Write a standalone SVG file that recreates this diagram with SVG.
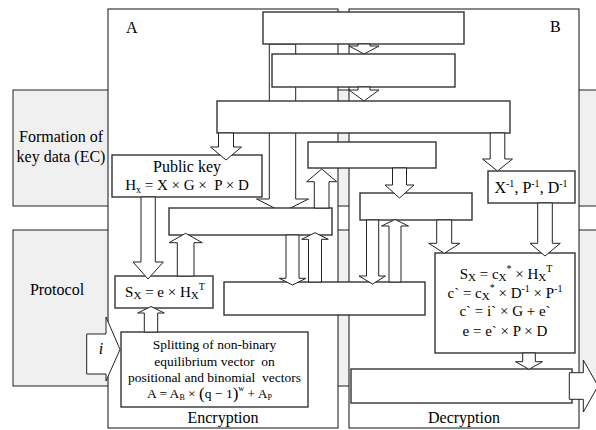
<svg xmlns="http://www.w3.org/2000/svg" width="596" height="430" viewBox="0 0 596 430">
<style>
.band{fill:#f0f0f0;stroke:#222;stroke-width:1}
.panel{fill:#fff;stroke:#111;stroke-width:1}
.box{fill:#fff;stroke:#333;stroke-width:1.4}
.arr{fill:#fff;stroke:#222;stroke-width:1}
text{font-family:'Liberation Serif','Times New Roman',Tinos,'DejaVu Serif',serif;font-size:16px;fill:#000}
.m{text-anchor:middle}
.s{font-size:13.5px}
.f{font-size:15px}
</style>
<rect width="596" height="430" fill="#fff"/>
<g id="band-formation">
<rect class="band" x="13" y="90" width="600" height="116"/>
<text class="m" x="61" y="142">Formation of</text>
<text class="m" x="61" y="162">key data (EC)</text>
</g>
<g id="band-protocol">
<rect class="band" x="13" y="230" width="600" height="156"/>
<text class="m" x="57" y="295">Protocol</text>
</g>
<g id="panel-A">
<rect class="panel" x="108" y="9" width="230" height="419"/>
<text x="126" y="33">A</text>
<text class="m" x="223" y="423">Encryption</text>
</g>
<g id="panel-B">
<rect class="panel" x="349" y="9" width="230" height="419"/>
<text x="550" y="32">B</text>
<text class="m" x="464" y="423">Decryption</text>
</g>
<g id="connectors-back">
<polygon class="arr" points="269.3,44 295.7,44 295.7,199 308.5,199 282.5,212 256.5,199 269.3,199"/>
</g>
<g id="box1"><rect class="box" x="263" y="12" width="201" height="32"/></g>
<g id="box2"><rect class="box" x="272" y="54" width="183" height="33"/></g>
<g id="box3"><rect class="box" x="217" y="101" width="293" height="32"/></g>
<g id="public-key">
<rect class="box" x="112" y="155" width="150" height="42"/>
<text class="m" x="187" y="172">Public key</text>
<text class="m f" x="187" y="190">H<tspan font-size="10" dy="3">x</tspan><tspan dy="-3" xml:space="preserve"> = X × G ×  P × D</tspan></text>
</g>
<g id="box4"><rect class="box" x="169" y="208" width="163" height="27"/></g>
<g id="box5"><rect class="box" x="308" y="142" width="128" height="26"/></g>
<g id="box6"><rect class="box" x="360" y="193" width="112" height="27"/></g>
<g id="inverse">
<rect class="box" x="488" y="171" width="87" height="32"/>
<text class="m" x="531" y="193">X<tspan font-size="10" dy="-6">-1</tspan><tspan dy="6">, P</tspan><tspan font-size="10" dy="-6">-1</tspan><tspan dy="6">, D</tspan><tspan font-size="10" dy="-6">-1</tspan></text>
</g>
<g id="syndrome">
<rect class="box" x="115" y="276" width="98" height="32"/>
<text class="m f" x="165" y="297">S<tspan font-size="11" dy="2">X</tspan><tspan dy="-2"> = e × H</tspan><tspan font-size="11" dy="2">X</tspan><tspan font-size="10" dy="-9">T</tspan></text>
</g>
<g id="box7"><rect class="box" x="224" y="282" width="201" height="33"/></g>
<g id="decoding">
<rect class="box" x="435" y="253" width="140" height="100"/>
<text class="m f" x="506" y="279">S<tspan font-size="11" dy="2">X</tspan><tspan dy="-2"> = c</tspan><tspan font-size="11" dy="2">X</tspan><tspan font-size="10" dy="-9">*</tspan><tspan dy="7"> × H</tspan><tspan font-size="11" dy="2">X</tspan><tspan font-size="10" dy="-9">T</tspan></text>
<text class="m f" x="505" y="298">c` = c<tspan font-size="11" dy="2">X</tspan><tspan font-size="10" dy="-9">*</tspan><tspan dy="7"> × D</tspan><tspan font-size="10" dy="-6">-1</tspan><tspan dy="6"> × P</tspan><tspan font-size="10" dy="-6">-1</tspan></text>
<text class="m f" x="505" y="316">c` = i` × G + e`</text>
<text class="m f" x="505" y="336">e = e` × P × D</text>
</g>
<g id="splitting">
<rect class="box" x="121" y="332" width="187" height="75"/>
<text class="m s" x="214.5" y="349">Splitting of non-binary</text>
<text class="m s" x="214.5" y="366" xml:space="preserve">equilibrium vector  on</text>
<text class="m s" x="214.5" y="382" xml:space="preserve">positional and binomial  vectors</text>
<text class="s" x="147" y="398">A = A<tspan font-size="8" dy="2">B</tspan><tspan dy="-2"> × </tspan><tspan font-size="17" dy="1">(</tspan><tspan dy="-1">q − 1</tspan><tspan font-size="17" dy="1">)</tspan><tspan font-size="8" dy="-8">w</tspan><tspan dy="7"> + A</tspan><tspan font-size="8" dy="2">P</tspan></text>
</g>
<g id="output-box"><rect class="box" x="351" y="369" width="221" height="34"/></g>
<g id="connectors">
<polygon class="arr" points="358,44 370,44 370,46 379,46 364,54 349,46 358,46"/>
<polygon class="arr" points="358,87 370,87 370,90 379,90 364,101 349,90 358,90"/>
<polygon class="arr" points="218.5,133 233.5,133 233.5,147 241.5,147 226,160 210.5,147 218.5,147"/>
<polygon class="arr" points="141,197 155.3,197 155.3,262 163.3,262 148,279 133,262 141,262"/>
<polygon class="arr" points="177.3,276 194,276 194,242.7 202.3,242.7 185.7,233.3 169,242.7 177.3,242.7"/>
<polygon class="arr" points="144.3,332 157.7,332 157.7,313 164.3,313 151,306.5 137.7,313 144.3,313"/>
<polygon class="arr" points="314.3,208 329,208 329,181.7 336.7,181.7 321.7,169 306.7,181.7 314.3,181.7"/>
<polygon class="arr" points="490.2,133 504.8,133 504.8,159 512.5,159 497.5,171 482.5,159 490.2,159"/>
<polygon class="arr" points="537.7,203 552.3,203 552.3,243.3 560.3,243.3 545,256 530,243.3 537.7,243.3"/>
<polygon class="arr" points="392.5,168 406.5,168 406.5,185 414,185 399.5,198 385,185 392.5,185"/>
<polygon class="arr" points="436.7,220 451.7,220 451.7,243.3 460,243.3 444.3,253.3 428.7,243.3 436.7,243.3"/>
<polygon class="arr" points="286,235 299,235 299,278.3 306,278.3 292.5,285 279.3,278.3 286,278.3"/>
<polygon class="arr" points="308.5,282 321.5,282 321.5,239.3 328.3,239.3 315,232.7 301.7,239.3 308.5,239.3"/>
<polygon class="arr" points="366.5,220 378.7,220 378.7,276 385.5,276 372.5,284 359,276 366.5,276"/>
<polygon class="arr" points="389,282 401,282 401,226 408.5,226 395,219.5 381.5,226 389,226"/>
<polygon class="arr" points="522.7,353 535.3,353 535.3,361.7 542.5,361.7 529,369.3 515.5,361.7 522.7,361.7"/>
<polygon class="arr" points="86.7,334 106,334 106,317 120,349.5 106,381 106,374 86.7,374"/>
<polygon class="arr" points="569.3,372.7 583.3,372.7 583.3,360 598,386 583.3,412 583.3,399.3 569.3,399.3"/>
</g>
<text x="101" y="354" font-style="italic" class="m">i</text>
</svg>
